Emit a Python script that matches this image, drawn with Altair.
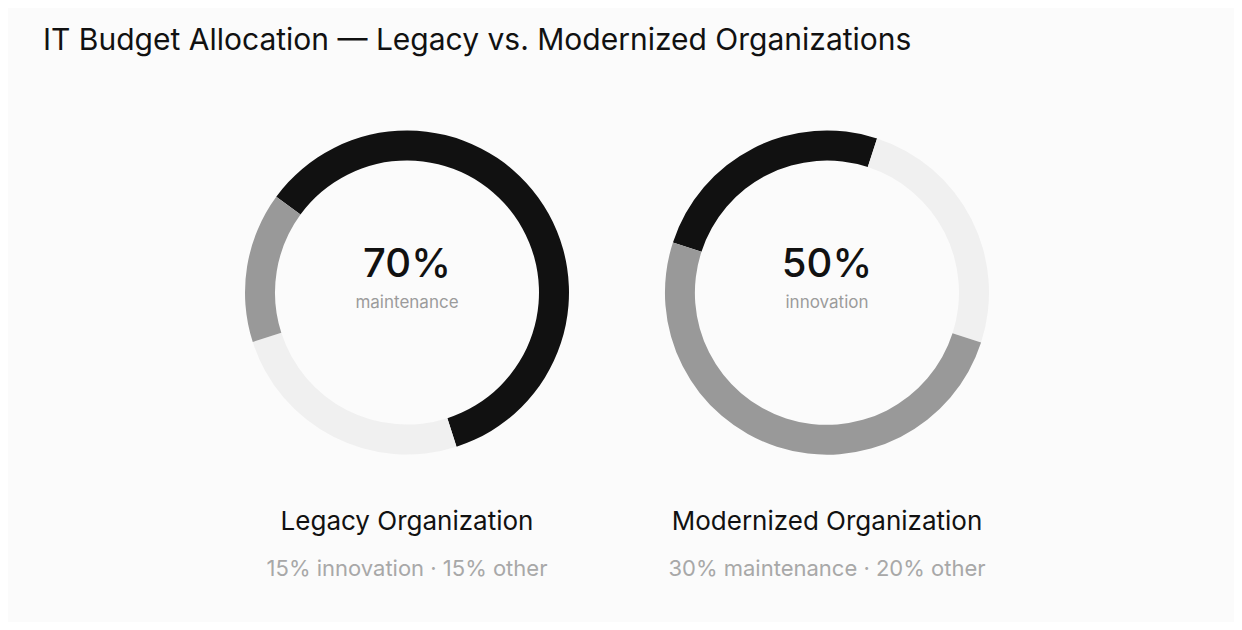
import math
import altair as alt
import pandas as pd

TITLE = "IT Budget Allocation — Legacy vs. Modernized Organizations"

# Panel texts
orgs = ["Legacy Organization", "Modernized Organization"]
headline_value = ["70%", "50%"]
headline_label = ["maintenance", "innovation"]
detail_text = ["15% innovation · 15% other", "30% maintenance · 20% other"]

# Ring segments as drawn (share of the full circle, clockwise)
legacy_segments = ["dark", "light", "mid"]
legacy_shares = [60, 25, 15]
modern_segments = ["dark", "light", "mid"]
modern_shares = [25, 25, 50]

tones = ["dark", "mid", "light"]
tone_colors = ["#111111", "#999999", "#f0f0f0"]

FONT = "Inter"
W, H = 1226, 614
CY = 284.5

xscale = alt.Scale(type="point", domain=orgs, range=[399, 819], padding=0)


def ring(org, segs, shares, rot_deg):
    df = pd.DataFrame({"org": [org] * len(segs), "segment": segs, "share": shares,
                       "order": list(range(len(segs)))})
    r0 = math.radians(rot_deg)
    return alt.Chart(df).mark_arc(innerRadius=132, outerRadius=162).encode(
        x=alt.X("org:N", scale=xscale, axis=None),
        y=alt.value(CY),
        theta=alt.Theta("share:Q", stack=True,
                        scale=alt.Scale(domain=[0, 100], range=[r0, r0 + 2 * math.pi])),
        color=alt.Color("segment:N", scale=alt.Scale(domain=tones, range=tone_colors), legend=None),
        order=alt.Order("order:Q"),
    )


left = ring(orgs[0], legacy_segments, legacy_shares, -53.8)
right = ring(orgs[1], modern_segments, modern_shares, -72.0)

tdf = pd.DataFrame({"org": orgs, "value": headline_value, "label": headline_label,
                    "detail": detail_text})
base = alt.Chart(tdf).encode(x=alt.X("org:N", scale=xscale, axis=None))

big = base.mark_text(font=FONT, fontSize=40, fontWeight=500, color="#111111",
                     baseline="alphabetic").encode(y=alt.value(269), text="value:N")
sub = base.mark_text(font=FONT, fontSize=17, color="#9b9b9b",
                     baseline="alphabetic").encode(y=alt.value(300), text="label:N")
name = base.mark_text(font=FONT, fontSize=26, color="#111111",
                      baseline="alphabetic").encode(y=alt.value(522), text="org:N")
det = base.mark_text(font=FONT, fontSize=22, color="#a8a8a8",
                     baseline="alphabetic").encode(y=alt.value(568), text="detail:N")

title = alt.Chart(pd.DataFrame({"t": [TITLE]})).mark_text(
    font=FONT, fontSize=30, color="#111111", align="left", baseline="alphabetic"
).encode(x=alt.value(35), y=alt.value(42), text="t:N")

chart = alt.layer(left, right, big, sub, name, det, title).resolve_scale(
    theta="independent"
).properties(
    width=W, height=H,
    autosize=alt.AutoSizeParams(type="none"),
    padding=0,
    background="#fbfbfb",
).configure_view(stroke=None)

chart.save("out.html", embed_options={"renderer": "svg", "actions": False})
